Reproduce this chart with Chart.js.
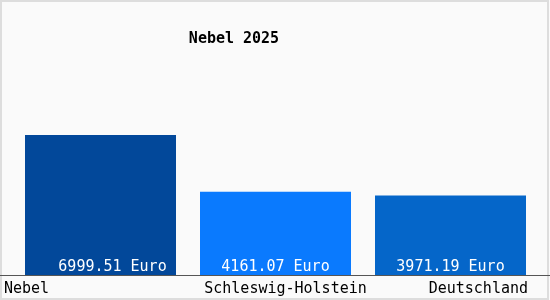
<!DOCTYPE html>
<html>
<head>
<meta charset="utf-8">
<script src="https://cdn.jsdelivr.net/npm/chart.js@4"></script>
<style>
  body { margin: 0; background: #fff; }
  #wrap { width: 550px; height: 300px; }
</style>
</head>
<body>
<div id="wrap"><canvas id="myChart" width="550" height="300"></canvas></div>
<script>
const labels = ['Nebel', 'Schleswig-Holstein', 'Deutschland'];
const values = [6999.51, 4161.07, 3971.19];
const colors = ['#02489a', '#0a7afe', '#0566c9'];
const title = 'Nebel 2025';

const font = '"DejaVu Sans Mono", monospace';

const decor = {
  id: 'decor',
  beforeDraw(chart) {
    const c = chart.ctx;
    c.save();
    c.fillStyle = '#fafafa';
    c.fillRect(0, 0, chart.width, chart.height);
    c.strokeStyle = '#dddddd';
    c.lineWidth = 2;
    c.strokeRect(1, 1, chart.width - 3, chart.height - 2);
    c.restore();
  },
  afterDatasetsDraw(chart) {
    const c = chart.ctx;
    const meta = chart.getDatasetMeta(0);
    const yBase = chart.scales.y.getPixelForValue(0);
    c.save();
    // baseline
    c.strokeStyle = '#555';
    c.lineWidth = 1;
    c.beginPath();
    c.moveTo(0, Math.round(yBase) + 0.5);
    c.lineTo(chart.width, Math.round(yBase) + 0.5);
    c.stroke();

    // value labels inside bars
    c.font = '15px ' + font;
    c.fillStyle = '#ffffff';
    c.textAlign = 'center';
    c.textBaseline = 'alphabetic';
    meta.data.forEach((bar, i) => {
      const txt = values[i].toFixed(2) + ' Euro';
      c.fillText(txt, bar.x + (i === 0 ? 12 : 0), yBase - 4);
    });

    // category labels
    c.fillStyle = '#000';
    c.textBaseline = 'middle';
    meta.data.forEach((bar, i) => {
      if (i === 0) {
        c.textAlign = 'left';
        c.fillText(labels[i], 4, yBase + 14);
      } else if (i === labels.length - 1) {
        c.textAlign = 'right';
        c.fillText(labels[i], bar.x + bar.width / 2 + 2, yBase + 14);
      } else {
        c.textAlign = 'center';
        c.fillText(labels[i], bar.x + 10, yBase + 14);
      }
    });

    // title
    c.font = 'bold 15px ' + font;
    c.textAlign = 'center';
    c.fillText(title, 234, 39);
    c.restore();
  }
};

const ctx = document.getElementById('myChart').getContext('2d');
const myChart = new Chart(ctx, {
  type: 'bar',
  data: {
    labels,
    datasets: [{
      data: values,
      backgroundColor: colors,
      borderWidth: 0,
      barPercentage: 1,
      categoryPercentage: 151 / 175
    }]
  },
  options: {
    responsive: false,
    animation: false,
    layout: { padding: { left: 13, right: 12, top: 75, bottom: 25 } },
    plugins: { legend: { display: false }, title: { display: false }, tooltip: { enabled: false } },
    scales: {
      x: { display: false, grid: { display: false } },
      y: { display: false, min: 0, max: 10000, grid: { display: false } }
    }
  },
  plugins: [decor]
});
</script>
</body>
</html>
